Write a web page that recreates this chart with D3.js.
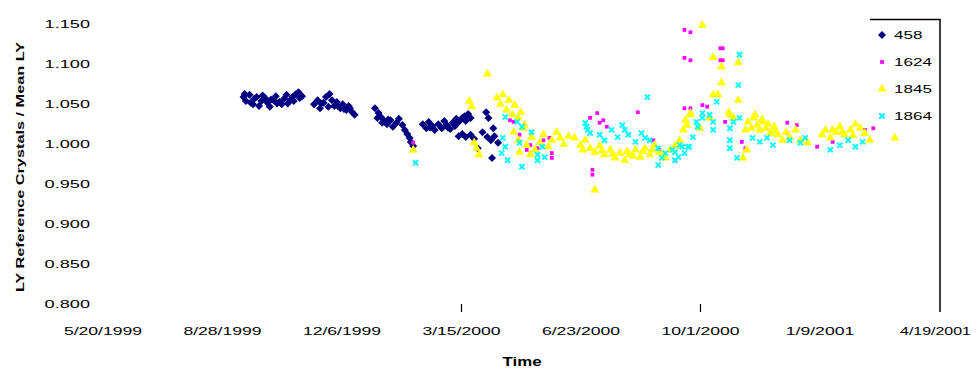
<!DOCTYPE html>
<html>
<head>
<meta charset="utf-8">
<script src="https://cdn.jsdelivr.net/npm/d3@7"></script>
<style>
  body { margin: 0; background: #fff; }
  text { font-family: "Liberation Sans", Arial, sans-serif; fill: #000; }
</style>
</head>
<body>
<div id="chart"></div>
<script>
// base date, every point is [days since base, LY ratio]
const baseDate = new Date(1999, 4, 20);
const seriesNames = ["458", "1624", "1845", "1864"];
const seriesColors = ["#000080", "#ff00ff", "#ffff00", "#00ffff"];

const s458 = [
  [118,1.058],[120,1.053],[123,1.061],[124,1.051],[127,1.056],[129,1.058],[131,1.047],[133,1.053],[136,1.057],[138,1.051],[140,1.046],
  [143,1.054],[145,1.059],[148,1.052],[150,1.049],[152,1.056],[154,1.061],[157,1.054],[159,1.058],[162,1.062],[164,1.064],[167,1.059],
  [119,1.062],[126,1.049],[134,1.060],[141,1.055],[146,1.050],[155,1.050],[160,1.053],[165,1.057],
  [177,1.049],[180,1.054],[182,1.044],[185,1.051],[187,1.058],[190,1.062],[192,1.054],[194,1.047],[196,1.052],[199,1.044],[201,1.049],
  [204,1.042],[206,1.047],[209,1.039],[211,1.036],[183,1.050],[189,1.046],[197,1.047],[202,1.043],[207,1.044],
  [228,1.044],[231,1.038],[233,1.033],[236,1.028],[238,1.024],[241,1.029],[243,1.021],[246,1.026],[248,1.031],[251,1.023],[253,1.017],
  [255,1.012],[257,1.007],[258,1.002],[260,0.997],[230,1.032],[234,1.026],[239,1.030],
  [268,1.024],[271,1.019],[273,1.027],[276,1.022],[278,1.017],[281,1.024],[283,1.021],[286,1.028],[288,1.023],[291,1.018],[293,1.026],
  [296,1.031],[298,1.027],[301,1.032],[303,1.034],[306,1.037],[308,1.032],[274,1.020],[284,1.019],[289,1.020],[295,1.022],[304,1.028],
  [298,1.009],[301,1.012],[304,1.008],[308,1.011],[311,1.006],
  [321,1.039],[323,1.032],[318,1.014],[322,1.008],[325,1.004],[328,1.009],[331,1.001],[327,1.019],[314,0.994],[326,0.982]
];

const s1624 = [
  [260,1.001],[341,1.029],[344,1.027],[355,0.992],[364,0.994],[369,1.004],[374,1.007],[376,0.988],[376,0.982],[349,1.011],[358,0.998],
  [408,1.032],[414,1.038],[419,1.029],[416,1.026],[422,1.021],[448,1.039],[410,0.967],[410,0.961],[461,1.004],[462,0.998],[466,0.992],
  [479,0.979],[487,1.044],[492,1.044],[502,1.048],[506,1.046],[487,1.142],[492,1.139],[487,1.107],[492,1.104],
  [517,1.119],[519,1.119],[517,1.104],[519,1.104],[521,1.027],[535,1.002],[538,0.994],
  [573,1.026],[581,1.023],[573,1.013],[598,0.996],[611,1.002],[634,1.019],[638,1.017],[645,1.019]
];

const s1845 = [
  [260,0.992],[307,1.053],[309,1.046],[322,1.087],[330,1.057],[333,1.049],[335,1.061],[338,1.042],[340,1.054],[343,1.036],[345,1.048],
  [348,1.032],[350,1.039],[353,1.023],[313,0.994],[315,0.986],[311,1.001],[344,1.014],[348,1.004],[352,1.019],[355,0.998],[359,1.008],
  [362,0.992],[366,1.001],[369,1.011],[373,0.996],[376,1.004],[380,1.014],[383,1.007],[386,0.999],[390,1.009],[349,0.989],[358,0.986],
  [395,1.007],[400,0.998],[404,1.004],[408,0.994],[412,0.989],[416,0.997],[420,0.986],[425,0.992],[429,0.982],[433,0.988],[437,0.979],
  [441,0.986],[446,0.992],[450,0.983],[454,0.994],[458,0.986],[462,0.998],[466,0.989],[471,0.982],[475,0.992],[479,0.997],[483,1.004],
  [486,1.017],[488,1.029],[492,1.038],[412,0.942],[492,1.036],[489,1.023],[500,1.019],[508,1.032],
  [402,0.992],[418,0.991],[427,0.987],[439,0.990],[444,0.984],[452,0.990],[460,0.992],[469,0.986],
  [502,1.148],[511,1.108],[518,1.096],[518,1.076],[532,1.101],[532,1.054],[515,1.061],[511,1.061],[524,1.039],[525,1.036],[528,1.032],
  [538,1.017],[540,1.027],[543,1.019],[545,1.032],[548,1.023],[550,1.017],[553,1.027],[555,1.019],[559,1.013],[562,1.021],[565,1.011],
  [569,1.004],[572,1.014],[575,1.008],[580,1.017],[584,1.004],[590,1.001],[602,1.011],[605,1.017],[609,1.007],[614,1.014],[617,1.021],
  [621,1.011],[626,1.017],[630,1.024],[634,1.019],[638,1.013],[642,1.004],[663,1.007],[536,0.982],[539,0.992],
  [546,1.036],[552,1.030],[557,1.024],[563,1.016],[611,1.017],[619,1.014],[628,1.010]
];

const s1864 = [
  [262,0.976],[337,1.033],[347,1.027],[351,1.021],[359,1.014],[335,1.007],[337,0.996],[334,0.988],[339,0.979],[351,0.971],[364,0.986],
  [364,0.979],[370,0.983],[368,0.996],[349,1.001],
  [456,1.058],[404,1.026],[406,1.017],[405,1.021],[408,1.013],[416,1.011],[420,1.004],[426,1.017],[435,1.023],[437,1.017],[431,1.008],
  [440,1.011],[446,1.002],[451,1.013],[454,1.007],[458,1.004],[465,0.994],[471,0.988],[479,0.989],[485,0.996],[468,0.982],[465,0.973],
  [490,0.996],[494,1.008],[502,1.038],[498,1.021],
  [533,1.111],[532,1.073],[514,1.052],[508,1.036],[502,1.032],[497,1.027],[511,1.027],[511,1.017],[525,1.019],[528,1.027],[533,1.032],
  [525,1.004],[525,0.994],[531,0.982],[544,1.007],[550,1.002],[556,1.007],[561,0.998],
  [477,0.992],[482,0.983],[487,0.988],[491,0.996],[479,0.979],[483,0.998],
  [575,1.004],[584,1.001],[588,1.007],[617,0.998],[624,1.004],[630,0.996],[636,1.002],[609,0.992]
];

const seriesData = [s458, s1624, s1845, s1864];
const tickDays = [0, 100, 200, 300, 400, 500, 600, 700];
const yTicks = [0.8, 0.85, 0.9, 0.95, 1.0, 1.05, 1.1, 1.15];

const width = 977, height = 372;
const stretch = 1.6; // the labels in the picture are drawn wide

const svg = d3.select("#chart").append("svg")
  .attr("width", width)
  .attr("height", height);

const dayToDate = d => d3.timeDay.offset(baseDate, d);

const x = d3.scaleTime()
  .domain([baseDate, dayToDate(700)])
  .range([102.5, 939]);

const y = d3.scaleLinear()
  .domain([0.8, 1.15])
  .range([303.5, 23.5]);

// X axis
const xAxis = svg.append("g")
  .attr("transform", "translate(0,304)")
  .call(d3.axisBottom(x)
    .tickValues(tickDays.map(dayToDate))
    .tickFormat(d3.timeFormat("%-m/%-d/%Y"))
    .tickSize(8));
xAxis.select(".domain").remove();
xAxis.selectAll(".tick line")
  .attr("stroke", "#000")
  .attr("stroke-width", 1.2)
  .attr("opacity", (d, i) => (i === 3 || i === 5) ? 1 : 0);
xAxis.selectAll(".tick text")
  .attr("y", 23)
  .attr("dy", "0.71em")
  .attr("transform", (d, i) => i === tickDays.length - 1 ? "translate(-4,0) scale(1.45,1)" : `scale(${stretch},1)`)
  .style("font-size", "11px");

// Y axis
const yAxis = svg.append("g")
  .attr("transform", "translate(90,0)")
  .call(d3.axisLeft(y)
    .tickValues(yTicks)
    .tickFormat(d3.format(".3f"))
    .tickSize(0));
yAxis.select(".domain").remove();
yAxis.selectAll(".tick text")
  .attr("x", 0)
  .attr("transform", `scale(1.65,1)`)
  .style("font-size", "11px");

// frame bits that show in the picture
svg.append("line")
  .attr("x1", 870).attr("x2", 940.5)
  .attr("y1", 19.5).attr("y2", 19.5)
  .attr("stroke", "#000").attr("stroke-width", 1.5);
svg.append("line")
  .attr("x1", 940).attr("x2", 940)
  .attr("y1", 19).attr("y2", 312)
  .attr("stroke", "#000").attr("stroke-width", 1.5);

// Titles
svg.append("text")
  .attr("x", 522).attr("y", 366)
  .attr("text-anchor", "middle")
  .attr("textLength", 39)
  .attr("lengthAdjust", "spacingAndGlyphs")
  .style("font-size", "12px")
  .style("font-weight", "bold")
  .text("Time");

svg.append("text")
  .attr("transform", "translate(24,167) rotate(-90)")
  .attr("text-anchor", "middle")
  .attr("textLength", 250)
  .attr("lengthAdjust", "spacingAndGlyphs")
  .style("font-size", "11px")
  .style("font-weight", "bold")
  .text("LY Reference Crystals / Mean LY");

// marker shapes
const xShape = {
  draw(ctx, size) {
    const r = Math.sqrt(size) / 2;
    ctx.moveTo(-r, -r); ctx.lineTo(r, r);
    ctx.moveTo(r, -r); ctx.lineTo(-r, r);
  }
};
const diamond = {
  draw(ctx, size) {
    const r = Math.sqrt(size) / 2;
    ctx.moveTo(0, -r); ctx.lineTo(r, 0); ctx.lineTo(0, r); ctx.lineTo(-r, 0);
    ctx.closePath();
  }
};
const shapes = [
  d3.symbol().type(diamond).size(64),
  d3.symbol().type(d3.symbolSquare).size(14),
  d3.symbol().type(d3.symbolTriangle).size(34),
  d3.symbol().type(xShape).size(25)
];

seriesData.forEach((data, i) => {
  const g = svg.append("g");
  const pts = g.selectAll("path")
    .data(data).enter()
    .append("path")
    .attr("transform", d => `translate(${x(dayToDate(d[0]))},${y(d[1])})`)
    .attr("d", shapes[i]);
  if (i === 3) {
    pts.attr("fill", "none").attr("stroke", seriesColors[i]).attr("stroke-width", 2);
  } else {
    pts.attr("fill", seriesColors[i]);
  }
});

// Legend
const legend = svg.append("g");
seriesNames.forEach((name, i) => {
  const ly = 35 + i * 27;
  const m = legend.append("path")
    .attr("transform", `translate(882,${ly})`)
    .attr("d", shapes[i]);
  if (i === 3) {
    m.attr("fill", "none").attr("stroke", seriesColors[i]).attr("stroke-width", 2);
  } else {
    m.attr("fill", seriesColors[i]);
  }
  legend.append("text")
    .attr("x", 0).attr("y", ly + 4)
    .attr("transform", `translate(894,0) scale(1.55,1)`)
    .style("font-size", "11px")
    .text(name);
});
</script>
</body>
</html>
